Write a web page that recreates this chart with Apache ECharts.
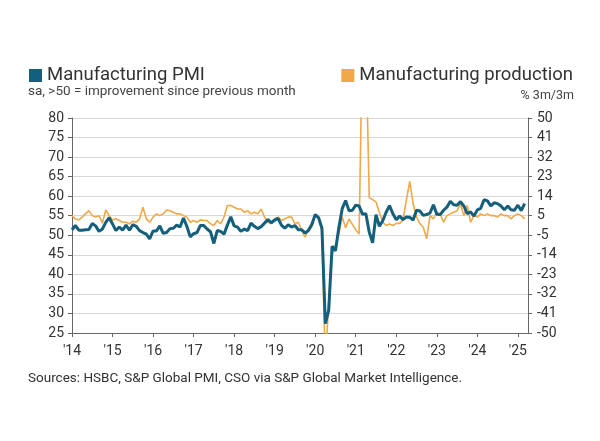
<!DOCTYPE html>
<html>
<head>
<meta charset="utf-8">
<script src="https://cdn.jsdelivr.net/npm/echarts@6/dist/echarts.min.js"></script>
<style>
  html, body { margin: 0; padding: 0; background: #fff; }
  #chart { width: 600px; height: 441px; }
</style>
</head>
<body>
<div id="chart"></div>
<script>
// year tick labels, one per January
const yearLabels = ["'14", "'15", "'16", "'17", "'18", "'19", "'20", "'21", "'22", "'23", "'24", "'25"]

// PMI, Jan 2014 - Mar 2025
const pmi = [
  51.4, 52.5, 51.3, 51.3, 51.4, 51.5, 53.0, 52.4, 51.0, 51.6, 53.3, 54.5,
  52.9, 51.2, 52.1, 51.3, 52.6, 51.3, 52.7, 52.3, 51.2, 50.7, 50.3, 49.1,
  51.1, 51.1, 52.4, 50.5, 50.7, 51.7, 51.8, 52.6, 52.1, 54.4, 52.3, 49.6,
  50.4, 50.7, 52.5, 52.5, 51.6, 50.9, 47.9, 51.2, 51.0, 50.3, 52.6, 54.7,
  52.4, 52.1, 51.0, 51.6, 51.2, 53.1, 52.3, 51.7, 52.2, 53.1, 54.0, 53.2,
  53.9, 54.3, 52.6, 51.8, 52.7, 52.1, 52.5, 51.4, 51.4, 50.6, 51.2, 52.7,
  55.3, 54.5, 51.8, 27.4, 30.8, 47.2, 46.0, 52.0, 56.8, 58.9, 56.3, 56.4,
  57.7, 57.5, 55.4, 55.5, 50.8, 48.1, 55.3, 52.3, 53.7, 55.9, 57.6, 55.5,
  54.0, 54.9, 54.0, 54.7, 54.6, 53.9, 56.4, 56.2, 55.1, 55.3, 55.7, 57.8,
  55.4, 55.3, 56.4, 57.2, 58.7, 57.8, 57.7, 58.6, 57.5, 55.5, 56.0, 54.9,
  56.5, 56.9, 59.1, 58.8, 57.5, 58.3, 58.1, 57.5, 56.5, 57.5, 56.5, 56.4,
  57.7, 56.3, 58.1
]

// production % 3m/3m, Jan 2014 - Mar 2025
const production = [
  4.6, 3.1, 2.6, 3.9, 5.4, 6.9, 4.6, 3.9, 4.6, 1.1, 7.2, 4.6,
  2.6, 3.1, 2.3, 1.5, 1.5, 0.8, 2.0, 1.5, 3.1, 8.5, 3.1, 1.5,
  3.9, 5.4, 4.6, 5.4, 7.2, 6.9, 6.2, 5.4, 5.4, 4.6, 3.9, 1.5,
  2.3, 1.5, 2.6, 2.3, 2.3, 0.8, 0.0, 2.3, 0.8, 3.9, 9.3, 9.3,
  8.5, 7.7, 7.7, 6.2, 6.9, 5.4, 6.2, 5.4, 7.7, 3.9, 1.5, 0.8,
  3.1, 3.9, 2.3, 3.1, 3.9, 3.9, 0.8, 1.5, -2.3, -5.4, -1.5, 1.5,
  4.5, 3.5, -3.0, -65.0, -35.0, -14.0, -9.0, -4.0, 4.0, -1.0, 3.0, 0.5,
  -2.0, -4.0, 90.0, 85.0, 13.0, 12.0, 11.0, 6.0, 1.5, 0.0, 0.7, 0.0,
  1.0, 1.0, 2.5, 12.0, 20.5, 10.0, 3.9, 0.8, -0.8, -6.2, 4.6, 3.1,
  6.2, 5.4, 1.5, 4.6, 5.4, 6.2, 6.9, 10.0, 4.6, 9.3, 1.5, 4.6,
  3.9, 5.4, 4.6, 5.4, 4.6, 4.6, 3.9, 5.4, 4.6, 4.6, 3.1, 4.6,
  5.4, 4.6, 3.1
]

// monthly categories Jan 2014 - Apr 2025
const months = []
for (let y = 2014; y <= 2025; y++) {
  for (let m = 1; m <= 12; m++) {
    if (y === 2025 && m > 4) break
    months.push(y + '-' + (m < 10 ? '0' + m : m))
  }
}

const blue = '#135f7c'
const orange = '#f0a848'
const font = 'Roboto, "Noto Sans", sans-serif'

const chart = echarts.init(document.getElementById('chart'))
const option = {
  animation: false,
  textStyle: { fontFamily: font },
  legend: [
    {
      data: ['Manufacturing PMI'],
      left: 24, top: 61,
      icon: 'rect', itemWidth: 13, itemHeight: 13,
      textStyle: { fontSize: 18.5, color: '#333', fontFamily: font }
    },
    {
      data: ['Manufacturing production'],
      right: 22, top: 61,
      icon: 'rect', itemWidth: 13, itemHeight: 13,
      textStyle: { fontSize: 18.5, color: '#333', fontFamily: font }
    }
  ],
  graphic: [
    {
      type: 'text', left: 28, top: 85,
      style: { text: 'sa, >50 = improvement since previous month', fontSize: 13.5, fill: '#444', fontFamily: font }
    },
    {
      type: 'text', right: 26, top: 89,
      style: { text: '% 3m/3m', fontSize: 12.5, fill: '#444', fontFamily: font }
    },
    {
      type: 'text', left: 28, top: 372,
      style: { text: 'Sources: HSBC, S&P Global PMI, CSO via S&P Global Market Intelligence.', fontSize: 13.5, fill: '#333', fontFamily: font }
    }
  ],
  grid: {
    left: 72,
    right: 72,
    top: 118,
    bottom: 108
  },
  xAxis: {
    type: 'category',
    boundaryGap: false,
    data: months,
    axisLine: { onZero: false, lineStyle: { color: '#666' } },
    axisTick: {
      length: 4,
      interval: (i) => i % 12 === 0,
      lineStyle: { color: '#666' }
    },
    axisLabel: {
      interval: (i) => i % 12 === 0,
      formatter: (v, i) => yearLabels[Math.floor(i / 12)],
      fontSize: 14,
      color: '#333',
      margin: 11
    }
  },
  yAxis: [
    {
      type: 'value',
      min: 25,
      max: 80,
      interval: 5,
      axisLine: { show: true, lineStyle: { color: '#666' } },
      axisTick: { show: true, length: 4, lineStyle: { color: '#666' } },
      axisLabel: { fontSize: 14, color: '#333', margin: 8 },
      splitLine: { lineStyle: { color: '#d9d9d9' } }
    },
    {
      type: 'value',
      min: -50,
      max: 50,
      interval: 100 / 11,
      axisLine: { show: true, lineStyle: { color: '#666' } },
      axisTick: { show: true, length: 4, lineStyle: { color: '#666' } },
      axisLabel: {
        fontSize: 14,
        color: '#333',
        margin: 9,
        formatter(v) {
          return `${Math.round(v)}`
        }
      },
      splitLine: { show: false }
    }
  ],
  series: [
    {
      name: 'Manufacturing production',
      type: 'line',
      yAxisIndex: 1,
      data: production,
      symbol: 'none',
      clip: true,
      itemStyle: { color: orange },
      lineStyle: { color: orange, width: 1.6 }
    },
    {
      name: 'Manufacturing PMI',
      type: 'line',
      yAxisIndex: 0,
      data: pmi,
      symbol: 'none',
      clip: true,
      itemStyle: { color: blue },
      lineStyle: { color: blue, width: 3 }
    }
  ]
}
chart.setOption(option)
</script>
</body>
</html>
